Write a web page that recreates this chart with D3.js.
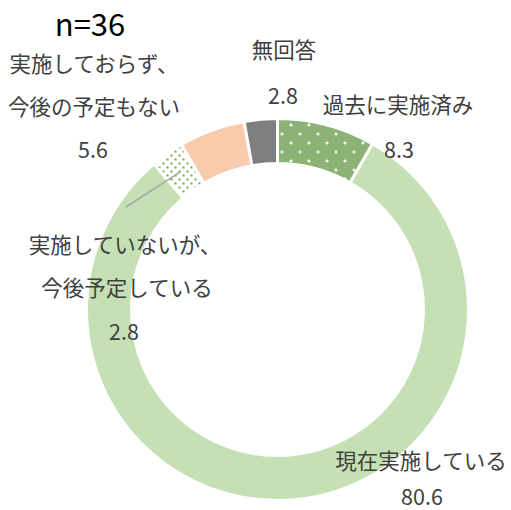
<!DOCTYPE html>
<html>
<head>
<meta charset="utf-8">
<script src="https://cdn.jsdelivr.net/npm/d3@7"></script>
<style>
  html, body { margin: 0; padding: 0; background: #fff; }
  svg { display: block; }
  text { font-family: "Noto Sans CJK JP", "Noto Sans", sans-serif; fill: #404040; }
</style>
</head>
<body>
<svg id="chart" width="511" height="510"></svg>
<script>
// Survey result (n=36), share of respondents in %
const categories = [
  "過去に実施済み",
  "現在実施している",
  "実施していないが、今後予定している",
  "実施しておらず、今後の予定もない",
  "無回答"
];
const values = [8.3, 80.6, 2.8, 5.6, 2.8];
const labelLines = [
  ["過去に実施済み"],
  ["現在実施している"],
  ["実施していないが、", "今後予定している"],
  ["実施しておらず、", "今後の予定もない"],
  ["無回答"]
];
const sampleLabel = "n=36";

const svg = d3.select("#chart");
const cx = 277.5, cy = 309.5;
const rOuter = 191, rInner = 146;
const fontSize = 21.5;

// Fill patterns
const defs = svg.append("defs");

// fine green checker used under the "past" slice
const chk = defs.append("pattern").attr("id", "chk")
  .attr("patternUnits", "userSpaceOnUse").attr("width", 2).attr("height", 2);
chk.append("rect").attr("width", 2).attr("height", 2).attr("fill", "#5a8c3b");
chk.append("rect").attr("x", 0).attr("y", 0).attr("width", 1).attr("height", 1).attr("fill", "#dcebd2");
chk.append("rect").attr("x", 1).attr("y", 1).attr("width", 1).attr("height", 1).attr("fill", "#a3c48f");

// checker plus small white crosses
const past = defs.append("pattern").attr("id", "pastFill")
  .attr("patternUnits", "userSpaceOnUse").attr("width", 18).attr("height", 18);
past.append("rect").attr("width", 18).attr("height", 18).attr("fill", "url(#chk)");
[[4, 4], [13, 13]].forEach(([x, y]) => {
  past.append("rect").attr("x", x - 1).attr("y", y).attr("width", 3).attr("height", 1).attr("fill", "#fff");
  past.append("rect").attr("x", x).attr("y", y - 1).attr("width", 1).attr("height", 3).attr("fill", "#fff");
});

// white with green dots for the "planned" slice
const dots = defs.append("pattern").attr("id", "dotFill")
  .attr("patternUnits", "userSpaceOnUse").attr("width", 8).attr("height", 8);
dots.append("rect").attr("width", 8).attr("height", 8).attr("fill", "#fff");
[[1, 1], [5, 5]].forEach(([x, y]) => {
  dots.append("rect").attr("x", x).attr("y", y).attr("width", 2).attr("height", 2).attr("fill", "#6aa84f");
});

const fills = ["url(#pastFill)", "#c5e0b4", "url(#dotFill)", "#f8cbad", "#7f7f7f"];

const data = categories.map((c, i) => ({ category: c, value: values[i], lines: labelLines[i], fill: fills[i] }));

const pie = d3.pie().sort(null).value(d => d.value).startAngle(0).endAngle(2 * Math.PI);
const arc = d3.arc().innerRadius(rInner).outerRadius(rOuter);
const arcs = pie(data);

const g = svg.append("g").attr("transform", `translate(${cx},${cy})`);
g.selectAll("path.slice")
  .data(arcs)
  .join("path")
  .attr("class", "slice")
  .attr("d", arc)
  .attr("fill", d => d.data.fill)
  .attr("stroke", "#fff")
  .attr("stroke-width", 3);

// Label placement per slice: line centres and value position
const labelPos = [
  { x: [398],      y: 103, valueX: 399, valueY: 148 },   // past
  { x: [421],      y: 459, valueX: 422, valueY: 495 },   // current
  { x: [125, 127], y: 243, valueX: 124, valueY: 330 },   // planned
  { x: [94, 94],   y: 62,  valueX: 93,  valueY: 148 },   // none
  { x: [284],      y: 48,  valueX: 283, valueY: 94 }     // no answer
];
const lineGap = 43;

arcs.forEach((a, i) => {
  const p = labelPos[i];
  const t = svg.append("g").attr("class", "label");
  a.data.lines.forEach((ln, k) => {
    t.append("text")
      .attr("x", p.x[k]).attr("y", p.y + k * lineGap)
      .attr("text-anchor", "middle")
      .attr("dominant-baseline", "central")
      .attr("font-size", fontSize)
      .text(ln);
  });
  t.append("text")
    .attr("x", p.valueX).attr("y", p.valueY)
    .attr("text-anchor", "middle")
    .attr("dominant-baseline", "central")
    .attr("font-size", fontSize)
    .text(a.data.value.toFixed(1));
});

// Leader line for the small "planned" slice
const plannedArc = arcs[2];
const midA = (plannedArc.startAngle + plannedArc.endAngle) / 2;
const rMid = (rInner + rOuter) / 2;
svg.append("line")
  .attr("x1", cx + Math.sin(midA) * rMid).attr("y1", cy - Math.cos(midA) * rMid)
  .attr("x2", 126).attr("y2", 207)
  .attr("stroke", "#a6a6a6").attr("stroke-width", 1.5);

// Sample size
svg.append("text")
  .attr("x", 90).attr("y", 22)
  .attr("text-anchor", "middle")
  .attr("dominant-baseline", "central")
  .attr("font-size", 31)
  .style("fill", "#000")
  .text(sampleLabel);
</script>
</body>
</html>
